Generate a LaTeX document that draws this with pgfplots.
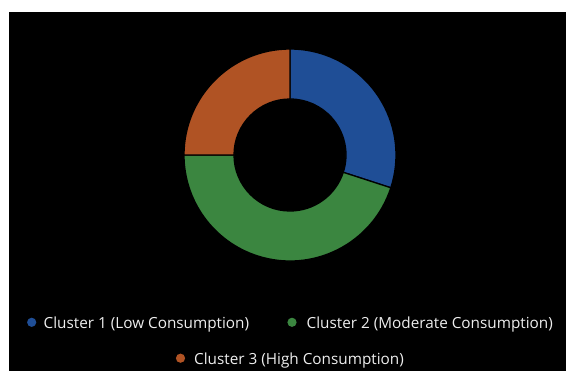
\documentclass[border=0pt]{standalone}
\usepackage{pgfplots}
\usepackage{pgfplotstable}
\pgfplotsset{compat=1.18}
\usepackage{fontspec}
\setmainfont{Open Sans}
\definecolor{cblue}{RGB}{31,78,150}
\definecolor{cgreen}{RGB}{59,134,64}
\definecolor{corange}{RGB}{176,83,36}
\definecolor{ltext}{RGB}{238,238,238}
\pgfplotstableread{
cluster value
1 30
2 45
3 25
}\donutdata
\begin{document}
\begin{tikzpicture}
\pgfplotstablegetelem{0}{value}\of\donutdata \pgfmathsetmacro{\va}{\pgfplotsretval}
\pgfplotstablegetelem{1}{value}\of\donutdata \pgfmathsetmacro{\vb}{\pgfplotsretval}
\pgfplotstablegetelem{2}{value}\of\donutdata \pgfmathsetmacro{\vc}{\pgfplotsretval}
\pgfmathsetmacro{\tot}{\va+\vb+\vc}
\pgfmathsetmacro{\aA}{90}
\pgfmathsetmacro{\aB}{90-360*\va/\tot}
\pgfmathsetmacro{\aC}{\aB-360*\vb/\tot}
\pgfmathsetmacro{\aD}{\aC-360*\vc/\tot}
\def\cx{290}\def\cy{216}\def\ro{106}\def\ri{56}
\begin{axis}[x=1bp,y=1bp,xmin=0,xmax=566,ymin=0,ymax=371,
  scale only axis,hide axis,clip=false,anchor=origin,at={(0,0)}]
\addplot[draw=none,forget plot] coordinates {(0,0) (566,371)};
\fill[white] (axis cs:0,0) rectangle (axis cs:566,371);
\fill[black] (axis cs:8.5,0) rectangle (axis cs:566,358.5);
% slices
\filldraw[fill=cblue,draw=black,line width=1.3bp]
  (axis cs:{\cx+\ro*cos(\aA)},{\cy+\ro*sin(\aA)}) arc[start angle=\aA,end angle=\aB,radius=\ro bp]
  -- (axis cs:{\cx+\ri*cos(\aB)},{\cy+\ri*sin(\aB)}) arc[start angle=\aB,end angle=\aA,radius=\ri bp] -- cycle;
\filldraw[fill=cgreen,draw=black,line width=1.3bp]
  (axis cs:{\cx+\ro*cos(\aB)},{\cy+\ro*sin(\aB)}) arc[start angle=\aB,end angle=\aC,radius=\ro bp]
  -- (axis cs:{\cx+\ri*cos(\aC)},{\cy+\ri*sin(\aC)}) arc[start angle=\aC,end angle=\aB,radius=\ri bp] -- cycle;
\filldraw[fill=corange,draw=black,line width=1.3bp]
  (axis cs:{\cx+\ro*cos(\aC)},{\cy+\ro*sin(\aC)}) arc[start angle=\aC,end angle=\aD,radius=\ro bp]
  -- (axis cs:{\cx+\ri*cos(\aD)},{\cy+\ri*sin(\aD)}) arc[start angle=\aD,end angle=\aC,radius=\ri bp] -- cycle;
% legend
\fill[cblue] (axis cs:31.7,48.7) circle[radius=4.6bp];
\node[anchor=base west,inner sep=0,text=ltext,font=\fontsize{15.3bp}{17bp}\selectfont] at (axis cs:43.5,42.3) {Cluster 1 (Low Consumption)};
\fill[cgreen] (axis cs:292,48.7) circle[radius=4.6bp];
\node[anchor=base west,inner sep=0,text=ltext,font=\fontsize{15.3bp}{17bp}\selectfont] at (axis cs:306.5,42.3) {Cluster 2 (Moderate Consumption)};
\fill[corange] (axis cs:180.5,12.8) circle[radius=4.6bp];
\node[anchor=base west,inner sep=0,text=ltext,font=\fontsize{15.3bp}{17bp}\selectfont] at (axis cs:194,6.7) {Cluster 3 (High Consumption)};
\end{axis}
\end{tikzpicture}
\end{document}
